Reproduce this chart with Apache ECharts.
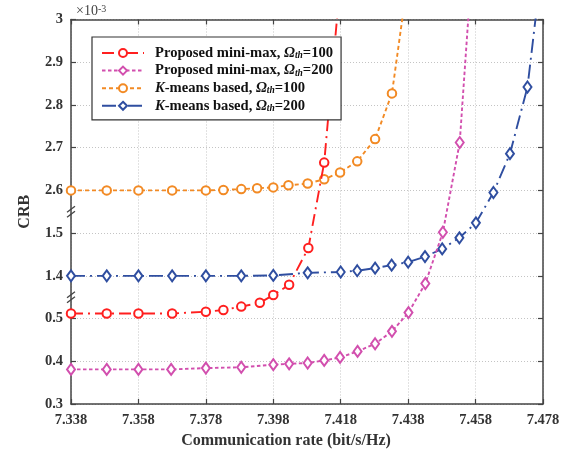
<!DOCTYPE html>
<html><head><meta charset="utf-8">
<script src="https://cdn.jsdelivr.net/npm/echarts@6/dist/echarts.min.js"></script>
<style>html,body{margin:0;padding:0;background:#fff}#c{width:579px;height:454px}</style>
</head><body><div id="c"></div>
<script>
// ---- data (CRB in units of 1e-3) ----
const redRate = [7.338, 7.3486, 7.358, 7.368, 7.378, 7.3832, 7.3885, 7.394, 7.398, 7.4027, 7.4084, 7.4131, 7.418];
const redCrb  = [0.512, 0.512, 0.512, 0.512, 0.516, 0.520, 0.528, 0.537, 0.555, 1.379, 1.465, 2.665, 3.10];

const magRate = [7.338, 7.3486, 7.358, 7.3677, 7.378, 7.3885, 7.398, 7.4027, 7.4082, 7.4131, 7.4178, 7.423, 7.4282, 7.4332, 7.4381, 7.4431, 7.4483, 7.4533, 7.458];
const magCrb  = [0.381, 0.381, 0.381, 0.381, 0.384, 0.386, 0.392, 0.394, 0.396, 0.402, 0.409, 0.423, 0.441, 0.470, 0.514, 0.582, 1.502, 2.712, 3.25];

const orgRate = [7.338, 7.3486, 7.358, 7.368, 7.378, 7.3832, 7.3885, 7.3932, 7.398, 7.4025, 7.4082, 7.4131, 7.4178, 7.4229, 7.4282, 7.4332, 7.438];
const orgCrb  = [2.600, 2.600, 2.600, 2.600, 2.600, 2.601, 2.603, 2.605, 2.607, 2.612, 2.616, 2.626, 2.642, 2.668, 2.720, 2.827, 3.10];

const bluRate = [7.338, 7.3486, 7.358, 7.368, 7.378, 7.3885, 7.398, 7.4082, 7.418, 7.4229, 7.4282, 7.4331, 7.438, 7.443, 7.4481, 7.4532, 7.4581, 7.4633, 7.4682, 7.4734, 7.478];
const bluCrb  = [1.400, 1.400, 1.400, 1.400, 1.400, 1.400, 1.401, 1.407, 1.409, 1.412, 1.418, 1.425, 1.432, 1.445, 1.463, 1.489, 1.524, 2.595, 2.686, 2.842, 3.15];

const seriesNames = ['Proposed mini-max, Ωth=100', 'Proposed mini-max, Ωth=200', 'K-means based, Ωth=100', 'K-means based, Ωth=200'];
const legendRich = [
  'Proposed mini-max, {it|Ω}{sub|th}=100',
  'Proposed mini-max, {it|Ω}{sub|th}=200',
  '{it|K}-means based, {it|Ω}{sub|th}=100',
  '{it|K}-means based, {it|Ω}{sub|th}=200'
];
const xTickMin = 7.338, xTickMax = 7.478, xTickStep = 0.02;
const yTickLabels = ['0.3', '0.4', '0.5', '1.4', '1.5', '2.6', '2.7', '2.8', '2.9', '3'];

// broken y axis: three value bands drawn stacked on one continuous axis
const bandUpper = [1.0, 2.0];        // real-value band limits
const bandShift = [0, 0.8, 1.8];      // shift that closes each break
const axisMin = 0.3, axisMax = 1.2, axisStep = 0.1;
const breakAt = [0.55, 0.75];         // positions of the break marks (axis units)

function toAxis(v) {
  const i = v < bandUpper[0] ? 0 : (v < bandUpper[1] ? 1 : 2);
  return +(v - bandShift[i]).toFixed(4);
}
function pairs(xs, ys) { return xs.map((x, i) => [x, toAxis(ys[i])]); }

const FONT = '"Liberation Serif", "Times New Roman", serif';
const AX = '#444';

const chart = echarts.init(document.getElementById('c'), null, {renderer: 'canvas'});

const mkSeries = (name, xs, ys, color, symbol, size, dash, z) => ({
  name, type: 'line', data: pairs(xs, ys), xAxisIndex: 0, yAxisIndex: 0,
  symbol, symbolSize: size, color, clip: true, z,
  lineStyle: {color, width: 1.9, type: dash},
  itemStyle: {color, borderColor: color, borderWidth: 1.5},
  emphasis: {disabled: true}
});

const option = {
  animation: false,
  backgroundColor: '#fff',
  grid: {left: 71, right: 36, top: 19.5, bottom: 50, containLabel: false},
  xAxis: [{
    type: 'value', min: xTickMin, max: xTickMax, interval: xTickStep,
    name: 'Communication rate (bit/s/Hz)', nameLocation: 'middle', nameGap: 29,
    nameTextStyle: {fontFamily: FONT, fontWeight: 'bold', fontSize: 16, color: '#333', padding: [0, 42, 0, 0]},
    axisLine: {show: true, lineStyle: {color: AX, width: 1.5}},
    axisTick: {show: true, inside: true, length: 5, lineStyle: {color: AX, width: 1.2}},
    axisLabel: {margin: 9, fontFamily: FONT, fontWeight: 'bold', fontSize: 14.5, color: '#333',
      formatter: v => v.toFixed(3)},
    splitLine: {show: true, lineStyle: {color: '#c4c4c4', type: [1, 2], width: 1}}
  }, {
    type: 'value', position: 'top', min: xTickMin, max: xTickMax, interval: xTickStep,
    axisLine: {show: true, lineStyle: {color: AX, width: 1.5}},
    axisTick: {show: true, inside: true, length: 5, lineStyle: {color: AX, width: 1.2}},
    axisLabel: {show: false}, splitLine: {show: false}
  }],
  yAxis: [{
    type: 'value', min: axisMin, max: axisMax, interval: axisStep,
    name: 'CRB', nameLocation: 'middle', nameGap: 38,
    nameTextStyle: {fontFamily: FONT, fontWeight: 'bold', fontSize: 16, color: '#333'},
    axisLine: {show: true, lineStyle: {color: AX, width: 1.5}},
    axisTick: {show: true, inside: true, length: 5, lineStyle: {color: AX, width: 1.2}},
    axisLabel: {margin: 8, fontFamily: FONT, fontWeight: 'bold', fontSize: 14.5, color: '#333',
      formatter: v => yTickLabels[Math.round((v - axisMin) / axisStep)] || ''},
    splitLine: {show: true, lineStyle: {color: '#c4c4c4', type: [1, 2], width: 1}}
  }, {
    type: 'value', position: 'right', min: axisMin, max: axisMax, interval: axisStep,
    axisLine: {show: true, lineStyle: {color: AX, width: 1.5}},
    axisTick: {show: true, inside: true, length: 5, lineStyle: {color: AX, width: 1.2}},
    axisLabel: {show: false}, splitLine: {show: false}
  }],
  legend: {
    orient: 'vertical', left: 92, top: 37,
    backgroundColor: '#fff', borderColor: '#333', borderWidth: 1.2, borderRadius: 0,
    padding: [8.5, 8, 6.5, 9],
    itemWidth: 42, itemHeight: 10, itemGap: 2.6,
    data: seriesNames,
    formatter: name => legendRich[seriesNames.indexOf(name)],
    textStyle: {
      fontFamily: FONT, fontWeight: 'bold', fontSize: 14.6, color: '#111', lineHeight: 15,
      padding: [0, 0, 0, 6],
      rich: {
        it: {fontFamily: FONT, fontWeight: 'bold', fontStyle: 'italic', fontSize: 14.6, color: '#111', lineHeight: 15},
        sub: {fontFamily: FONT, fontWeight: 'bold', fontStyle: 'italic', fontSize: 9.5, color: '#111', verticalAlign: 'bottom', lineHeight: 9}
      }
    },
    z: 10
  },
  series: [
    mkSeries(seriesNames[0], redRate, redCrb, '#ff1f1f', 'emptyCircle', 8.5, [12, 5, 2, 5], 4),
    mkSeries(seriesNames[1], magRate, magCrb, '#d24fae', 'emptyDiamond', [8, 11], [3.5, 2.5], 3),
    mkSeries(seriesNames[2], orgRate, orgCrb, '#f28a24', 'emptyCircle', 8.5, [4, 3], 2),
    mkSeries(seriesNames[3], bluRate, bluCrb, '#2f4ea0', 'emptyDiamond', [8, 11], [14, 5, 2, 5], 1)
  ]
};
chart.setOption(option);

// decorations: exponent label and axis-break marks
const axX = chart.convertToPixel({xAxisIndex: 0}, xTickMin);
const gfx = [{
  type: 'text', left: axX + 5, top: 4, z: 20,
  style: {text: '×10{sup|-3}', fontFamily: FONT, fontSize: 14, fill: '#444',
    rich: {sup: {fontFamily: FONT, fontSize: 10, fill: '#444', verticalAlign: 'top', lineHeight: 8}}}
}];
breakAt.forEach(b => {
  const y = chart.convertToPixel({yAxisIndex: 0}, b);
  [-2.5, 2.5].forEach(d => gfx.push({
    type: 'line', z: 20,
    shape: {x1: axX - 4, y1: y + d + 3, x2: axX + 4, y2: y + d - 3},
    style: {stroke: AX, lineWidth: 1.3}
  }));
});
chart.setOption({graphic: gfx});
</script></body></html>
